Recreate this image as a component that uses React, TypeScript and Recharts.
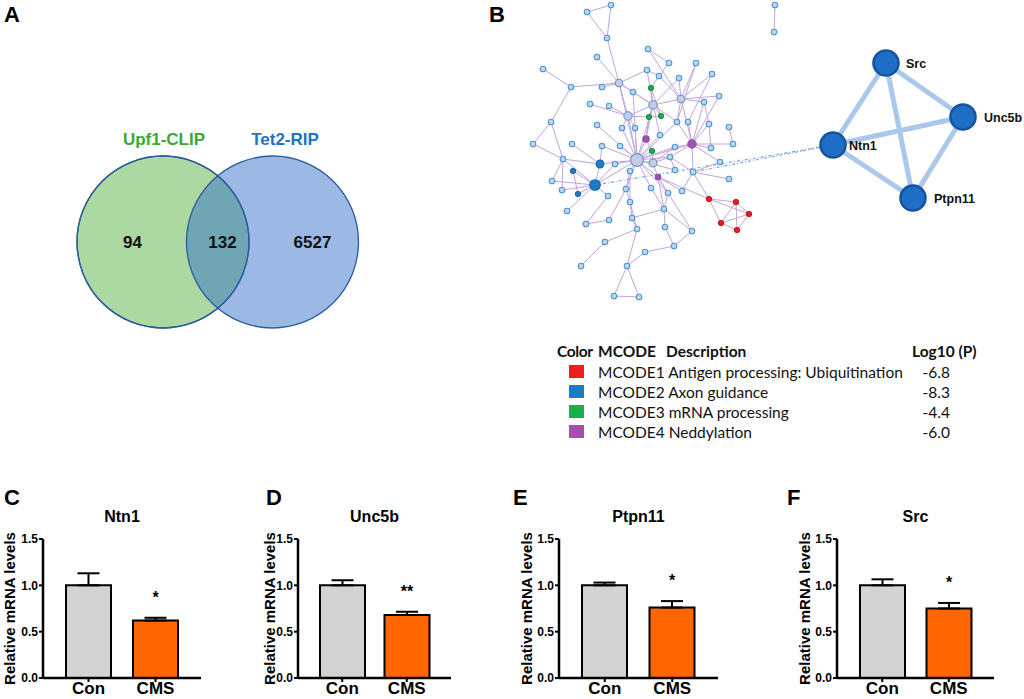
import {
  ComposedChart, Scatter, Line, XAxis, YAxis, Bar, ErrorBar, Cell, Legend, LabelList,
} from 'recharts'

const SANS = '"Liberation Sans", Arial, Helvetica, sans-serif'
const TABLE_FONT = 'Lato, "Noto Sans", sans-serif'

// ---- panel A: Venn ----
const vennSets = ['Upf1-CLIP', 'Tet2-RIP']
const vennSetColors = ['#3aa935', '#1c74c6']
const vennCounts = [94, 132, 6527] // only Upf1, shared, only Tet2

// ---- panel B: network + MCODE table ----
const mcodeIds = ['MCODE1', 'MCODE2', 'MCODE3', 'MCODE4']
const mcodeDesc = ['Antigen processing: Ubiquitination', 'Axon guidance', 'mRNA processing', 'Neddylation']
const mcodeLogP = [-6.8, -8.3, -4.4, -6.0]
const mcodeColors = ['#f21c1c', '#1b7dc2', '#17b04b', '#a34fac']

// node: x, y, group (n plain, h hub, r/b/g/p = MCODE1..4), radius
const netNodes: [number, number, string, number][] = [
  [87, 12, 'n', 2.8], [111, 5, 'n', 2.8], [107, 38, 'n', 2.8], [275, 5, 'n', 2.8], [274, 32, 'n', 2.8],
  [148, 49, 'n', 2.8], [169, 63, 'n', 2.8], [97, 57, 'n', 2.8], [43, 69, 'n', 2.8], [71, 87, 'n', 2.8],
  [102, 87, 'n', 2.8], [119, 83, 'h', 3.8], [147, 70, 'n', 2.8], [159, 76, 'n', 2.8], [179, 78, 'n', 2.8],
  [196, 63, 'n', 2.8], [212, 74, 'n', 2.8], [151, 88, 'g', 2.5], [133, 92, 'n', 2.8], [181, 99, 'h', 3.8],
  [219, 96, 'n', 2.8], [204, 102, 'n', 2.8], [90, 104, 'n', 2.8], [109, 106, 'n', 2.8], [153, 105, 'h', 4.2],
  [128, 116, 'h', 4.2], [149, 117, 'g', 2.5], [161, 116, 'g', 2.5], [177, 122, 'n', 2.8], [188, 122, 'n', 2.8],
  [209, 124, 'n', 2.8], [229, 127, 'n', 2.8], [51, 122, 'n', 2.8], [97, 125, 'n', 2.8], [122, 128, 'n', 2.8],
  [135, 128, 'n', 2.8], [160, 135, 'n', 2.8], [146, 139, 'p', 3.2], [192, 144, 'p', 4.2], [211, 148, 'n', 2.8],
  [233, 144, 'n', 2.8], [33, 144, 'n', 2.8], [72, 144, 'n', 2.8], [102, 146, 'n', 2.8], [120, 146, 'n', 2.8],
  [152, 151, 'g', 2.5], [175, 147, 'n', 2.8], [137, 160, 'h', 6.4], [153, 163, 'h', 4], [170, 157, 'n', 2.8],
  [63, 159, 'n', 2.8], [100, 164, 'b', 3.9], [115, 164, 'n', 2.8], [130, 171, 'n', 2.8], [220, 162, 'n', 2.8],
  [73, 171, 'b', 2.5], [175, 170, 'n', 2.8], [193, 172, 'n', 3], [158, 177, 'p', 2.7], [229, 179, 'n', 2.8],
  [95, 185, 'b', 5.3], [52, 181, 'n', 2.8], [62, 190, 'n', 2.8], [78, 194, 'b', 2.5], [126, 189, 'n', 2.8],
  [151, 188, 'n', 2.8], [182, 191, 'n', 2.8], [168, 193, 'n', 2.8], [108, 196, 'n', 2.8], [209, 199, 'r', 2.5],
  [236, 202, 'r', 2.5], [249, 214, 'r', 2.5], [221, 223, 'r', 2.5], [237, 230, 'r', 2.5], [130, 202, 'n', 2.8],
  [67, 211, 'n', 2.8], [164, 209, 'n', 2.8], [109, 220, 'n', 2.8], [132, 218, 'n', 2.8], [86, 224, 'n', 2.8],
  [137, 229, 'n', 2.8], [165, 227, 'n', 2.8], [192, 231, 'n', 2.8], [105, 242, 'n', 2.8], [174, 246, 'n', 2.8],
  [145, 252, 'n', 2.8], [81, 266, 'n', 2.8], [127, 266, 'n', 2.8], [114, 296, 'n', 2.8], [139, 297, 'n', 2.8],
]

const netEdges: [number, number][] = [
  [0, 1], [1, 2], [0, 2], [2, 11], [3, 4], [5, 6], [5, 19], [6, 13],
  [7, 11], [8, 9], [9, 11], [9, 32], [10, 11], [11, 12], [11, 24], [11, 25], [11, 47], [11, 18],
  [12, 13], [12, 24], [13, 19], [13, 17], [14, 19], [14, 24], [15, 19], [15, 28], [16, 19], [16, 29],
  [17, 24], [17, 27], [18, 24], [18, 47], [19, 20], [19, 24], [19, 28], [19, 38], [19, 21],
  [20, 38], [21, 30], [21, 38], [22, 25], [23, 25], [25, 26], [25, 24], [25, 47], [25, 34], [25, 35],
  [24, 26], [24, 27], [24, 37], [24, 47], [24, 28], [24, 36], [26, 27], [26, 37],
  [28, 38], [28, 47], [29, 38], [30, 38], [30, 39], [31, 40], [39, 38], [40, 38], [38, 54], [38, 57],
  [38, 47], [38, 49], [38, 46], [32, 41], [32, 50], [41, 50], [50, 51], [50, 61], [50, 62], [50, 60],
  [33, 47], [34, 47], [35, 47], [36, 47], [37, 47], [37, 45], [45, 47], [45, 48], [42, 51], [43, 47],
  [44, 47], [43, 51], [46, 47], [46, 48], [47, 48], [47, 49], [47, 51], [47, 52], [47, 53], [47, 56],
  [47, 58], [47, 64], [47, 65], [47, 60], [47, 67], [48, 58], [48, 49], [49, 56], [49, 57], [57, 54],
  [57, 59], [57, 69], [57, 66], [51, 60], [55, 63], [55, 60], [60, 61], [60, 62], [60, 63], [60, 52],
  [60, 75], [60, 68], [53, 64], [64, 74], [64, 77], [65, 76], [66, 58], [67, 58], [67, 76], [58, 76],
  [58, 69], [58, 82], [69, 70], [69, 71], [69, 72], [70, 71], [70, 72], [70, 73], [71, 72], [71, 73],
  [72, 73], [74, 78], [74, 80], [76, 78], [76, 81], [76, 82], [78, 80], [80, 83], [80, 87], [81, 84],
  [82, 84], [83, 86], [84, 85], [85, 87], [87, 88], [87, 89], [88, 89], [79, 77], [68, 79], [53, 74],
]

// highlighted sub-network: name, x, y, label dx
const subNodes: [string, number, number, number][] = [
  ['Src', 386, 63, 20], ['Unc5b', 463, 117, 21], ['Ntn1', 333, 145, 16], ['Ptpn11', 413, 198, 21],
]
const subEdges: [number, number][] = [[0, 2], [0, 1], [0, 3], [2, 1], [2, 3], [1, 3]]
// links from the big network into Ntn1
const crossLinks = [60, 57]

// ---- panels C-F: qPCR bars ----
const groups = ['Con', 'CMS']
const groupColors = ['#d3d3d3', '#ff6600']
const genes = ['Ntn1', 'Unc5b', 'Ptpn11', 'Src']
const geneMeans = [[1.0, 0.62], [1.0, 0.68], [1.0, 0.76], [1.0, 0.75]]
const geneSems = [[0.13, 0.03], [0.055, 0.035], [0.03, 0.07], [0.065, 0.06]]
const geneSig = ['*', '**', '*', '*']
const yTicks = [0, 0.5, 1.0, 1.5]

const BAR_LAYOUT = [
  { left: 0, width: 215, letter: 'C', letterX: 4, labelGap: 33 },
  { left: 255, width: 210, letter: 'D', letterX: 266, labelGap: 28 },
  { left: 516, width: 216, letter: 'E', letterX: 513, labelGap: 32 },
  { left: 794, width: 214, letter: 'F', letterX: 787, labelGap: 32 },
]

const letterStyle = (left: number, top: number): React.CSSProperties => ({
  position: 'absolute', left, top, fontSize: 22, fontWeight: 700, lineHeight: '22px', fontFamily: SANS,
})

function VennChart() {
  const circles = [
    { x: 163, y: 242, r: 86, fill: '#acd8a2', stroke: '#2b5d9b' },
    { x: 272.5, y: 242, r: 86, fill: 'rgba(46,109,198,0.48)', stroke: '#2b5d9b' },
    { x: 163, y: 242, r: 86, fill: 'none', stroke: '#2b5d9b' },
  ]
  const texts = [
    { x: 164, y: 139, text: vennSets[0], color: vennSetColors[0] },
    { x: 285, y: 139, text: vennSets[1], color: vennSetColors[1] },
    { x: 132.5, y: 242, text: String(vennCounts[0]), color: '#111' },
    { x: 222.5, y: 242, text: String(vennCounts[1]), color: '#111' },
    { x: 312.5, y: 242, text: String(vennCounts[2]), color: '#111' },
  ]
  return (
    <div style={{ position: 'absolute', left: 0, top: 0 }}>
      <ComposedChart width={400} height={360} margin={{ top: 0, right: 0, bottom: 0, left: 0 }}>
        <XAxis type="number" dataKey="x" domain={[0, 400]} hide allowDataOverflow />
        <YAxis type="number" dataKey="y" domain={[0, 360]} reversed hide allowDataOverflow />
        <Scatter
          data={circles}
          isAnimationActive={false}
          shape={(p: any) => (
            <circle cx={p.cx} cy={p.cy} r={p.payload.r} fill={p.payload.fill} stroke={p.payload.stroke} strokeWidth={1.3} />
          )}
        />
        <Scatter
          data={texts}
          isAnimationActive={false}
          shape={(p: any) => (
            <text x={p.cx} y={p.cy} dy={6} textAnchor="middle" fill={p.payload.color}
              style={{ fontFamily: SANS, fontWeight: 700, fontSize: 17 }}>{p.payload.text}</text>
          )}
        />
      </ComposedChart>
    </div>
  )
}

const nodeFill: Record<string, string> = {
  n: '#bed3ec', h: '#c5cbe2', r: mcodeColors[0], b: mcodeColors[1], g: mcodeColors[2], p: mcodeColors[3],
}
const nodeStroke: Record<string, string> = {
  n: '#4f97cf', h: '#5b96cc', r: '#c01010', b: '#1565a5', g: '#12903c', p: '#7d5aa8',
}

function McodeTable() {
  const fs = 15.5
  const head = { position: 'absolute' as const, top: 341, fontWeight: 700, fontSize: fs }
  return (
    <div style={{ position: 'relative', width: 524, height: 450, fontFamily: TABLE_FONT, color: '#111', lineHeight: '20px' }}>
      <span style={{ ...head, left: 57, letterSpacing: -0.4 }}>Color</span>
      <span style={{ ...head, left: 98 }}>MCODE</span>
      <span style={{ ...head, left: 166 }}>Description</span>
      <span style={{ ...head, left: 412 }}>Log10 (P)</span>
      {mcodeIds.map((id, i) => {
        const top = 362 + i * 20
        const cell = { position: 'absolute' as const, top, fontSize: fs, whiteSpace: 'nowrap' as const }
        return (
          <div key={id}>
            <span style={{ position: 'absolute', left: 69, top: top + 3, width: 15, height: 13, background: mcodeColors[i] }} />
            <span style={{ ...cell, left: 98 }}>{id} {mcodeDesc[i]}</span>
            <span style={{ ...cell, left: 400, width: 50, textAlign: 'right' }}>{mcodeLogP[i].toFixed(1)}</span>
          </div>
        )
      })}
    </div>
  )
}

function NetworkChart() {
  const pt = (i: number) => ({ x: netNodes[i][0], y: netNodes[i][1] })
  const edgeData = netEdges.flatMap(([a, b]) => [pt(a), pt(b), { x: null, y: null }])
  const nodeData = netNodes.map(([x, y, g, r]) => ({ x, y, g, r }))
  const sub = subNodes.map(([name, x, y, dx]) => ({ name, x, y, dx }))
  const subEdgeData = subEdges.flatMap(([a, b]) => [
    { x: sub[a].x, y: sub[a].y }, { x: sub[b].x, y: sub[b].y }, { x: null, y: null },
  ])
  const ntn1 = sub.find(s => s.name === 'Ntn1')!
  const crossData = crossLinks.flatMap(i => [pt(i), { x: ntn1.x, y: ntn1.y }, { x: null, y: null }])

  return (
    <div style={{ position: 'absolute', left: 500, top: 0 }}>
      <ComposedChart width={524} height={450} margin={{ top: 0, right: 0, bottom: 0, left: 0 }}>
        <XAxis type="number" dataKey="x" domain={[0, 524]} hide allowDataOverflow />
        <YAxis type="number" dataKey="y" domain={[0, 450]} reversed hide allowDataOverflow />
        <Line data={edgeData} dataKey="y" stroke="#c3a4da" strokeWidth={1} dot={false} activeDot={false} isAnimationActive={false} />
        <Line data={crossData} dataKey="y" stroke="#7fa7d6" strokeWidth={1.2} strokeDasharray="3 2 1 2" dot={false} activeDot={false} isAnimationActive={false} />
        <Scatter
          data={nodeData}
          isAnimationActive={false}
          shape={(p: any) => (
            <circle cx={p.cx} cy={p.cy} r={p.payload.r} fill={nodeFill[p.payload.g]} stroke={nodeStroke[p.payload.g]} strokeWidth={1.1} />
          )}
        />
        <Line data={subEdgeData} dataKey="y" stroke="#a9c8ec" strokeWidth={5} dot={false} activeDot={false} isAnimationActive={false} />
        <Scatter
          data={sub}
          isAnimationActive={false}
          shape={(p: any) => (
            <g>
              <circle cx={p.cx} cy={p.cy} r={12.5} fill="#1f6fc6" stroke="#17549f" strokeWidth={2.6} />
              <text x={p.cx + p.payload.dx} y={p.cy} dy={4.5} fill="#111"
                style={{ fontFamily: SANS, fontWeight: 700, fontSize: 12.5 }}>{p.payload.name}</text>
            </g>
          )}
        />
        <Legend
          layout="horizontal"
          verticalAlign="middle"
          align="center"
          wrapperStyle={{ position: 'absolute', left: 0, top: 0, width: 524, height: 450, pointerEvents: 'none' }}
          content={() => <McodeTable />}
        />
      </ComposedChart>
    </div>
  )
}

function GeneBars({ idx }: { idx: number }) {
  const lay = BAR_LAYOUT[idx]
  const data = groups.map((g, i) => ({
    group: g,
    mean: geneMeans[idx][i],
    sem: geneSems[idx][i],
    err: [0, geneSems[idx][i]],
    star: i === 1 ? geneSig[idx] : '',
  }))
  const axisX = lay.left + 43
  const plotW = lay.width - 43 - 14

  return (
    <>
      <div style={letterStyle(lay.letterX, 487)}>{lay.letter}</div>
      <div style={{
        position: 'absolute', left: axisX, top: 508, width: plotW, textAlign: 'center',
        fontFamily: SANS, fontWeight: 700, fontSize: 16, lineHeight: '18px',
      }}>{genes[idx]}</div>
      <div style={{ position: 'absolute', left: lay.left, top: 500 }}>
        <ComposedChart width={lay.width} height={199} data={data} margin={{ top: 39, right: 14, bottom: 0, left: 0 }}>
          <XAxis
            dataKey="group"
            padding={{ left: 12, right: 12 }}
            height={21}
            interval={0}
            tickSize={4}
            tickMargin={0}
            axisLine={{ stroke: '#000', strokeWidth: 2.5 }}
            tickLine={{ stroke: '#000', strokeWidth: 2 }}
            tick={{ fill: '#000', fontSize: 17, fontWeight: 700, fontFamily: SANS }}
          />
          <YAxis
            type="number"
            domain={[0, 1.5]}
            ticks={yTicks}
            interval={0}
            width={43}
            tickSize={4}
            tickMargin={1}
            tickFormatter={(v: number) => v.toFixed(1)}
            axisLine={{ stroke: '#000', strokeWidth: 2.5 }}
            tickLine={{ stroke: '#000', strokeWidth: 2 }}
            tick={{ fill: '#000', fontSize: 12, fontWeight: 700, fontFamily: SANS }}
            label={{
              content: (p: any) => {
                const vb = p.viewBox
                const cx = vb.x + vb.width - lay.labelGap
                const cy = vb.y + vb.height / 2
                return (
                  <text x={cx} y={cy} transform={`rotate(-90 ${cx} ${cy})`} textAnchor="middle" dy={5}
                    style={{ fontFamily: SANS, fontWeight: 700, fontSize: 15, fill: '#000' }}>
                    Relative mRNA levels
                  </text>
                )
              },
            }}
          />
          <Bar dataKey="mean" barSize={45} stroke="#000" strokeWidth={2} isAnimationActive={false}>
            {data.map((d, i) => <Cell key={d.group} fill={groupColors[i]} />)}
            <ErrorBar dataKey="err" width={11} stroke="#000" strokeWidth={2} />
            <LabelList
              dataKey="star"
              content={(p: any) => {
                if (!p.value) return null
                const vb = p.viewBox ?? p
                const d = data[p.index]
                const pxPerUnit = vb.height / d.mean
                const top = vb.y - d.sem * pxPerUnit
                return (
                  <text x={vb.x + vb.width / 2} y={top - 15} textAnchor="middle"
                    style={{ fontFamily: SANS, fontWeight: 700, fontSize: 16, fill: '#000' }}>{p.value}</text>
                )
              }}
            />
          </Bar>
        </ComposedChart>
      </div>
    </>
  )
}

export default function App() {
  return (
    <div style={{
      position: 'absolute', left: 0, top: 0, width: 1024, height: 699, background: '#fff',
      overflow: 'hidden', fontFamily: SANS,
    }}>
      <VennChart />
      <NetworkChart />
      <div style={letterStyle(4, 4)}>A</div>
      <div style={letterStyle(489, 4)}>B</div>
      {genes.map((g, i) => <GeneBars key={g} idx={i} />)}
    </div>
  )
}
